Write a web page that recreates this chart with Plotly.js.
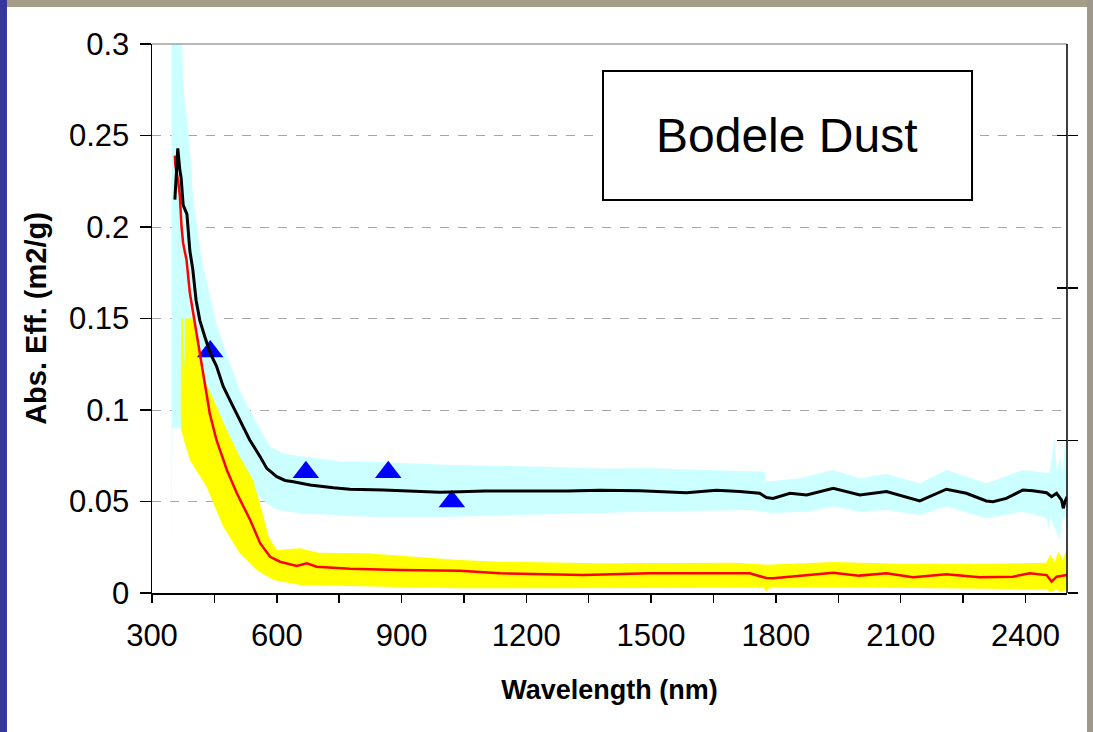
<!DOCTYPE html>
<html>
<head>
<meta charset="utf-8">
<script src="https://cdn.plot.ly/plotly-3.0.1.min.js"></script>
<style>
  html, body { margin: 0; padding: 0; background: #ffffff; }
  #chart { width: 1093px; height: 732px; }
</style>
</head>
<body>
<div id="chart"></div>
<script>
// ---- Data ----
const blackX = [355,358,362,367,370,375,384,391,398,406,415,427,440,455,471,487,511,535,560,576,600,620,640,680,736,776,856,936,992,1040,1100,1200,1300,1377,1473,1585,1657,1713,1761,1777,1793,1834,1874,1938,2002,2066,2130,2146,2210,2258,2306,2322,2354,2394,2418,2451,2463,2475,2487,2491,2495,2500];
const blackY = [0.215,0.226,0.243,0.231,0.227,0.212,0.207,0.187,0.177,0.160,0.149,0.140,0.131,0.124,0.113,0.1055,0.0945,0.0836,0.0745,0.0681,0.0636,0.0615,0.0608,0.059,0.0575,0.0567,0.0563,0.0557,0.055,0.0553,0.0557,0.0557,0.0557,0.0562,0.0559,0.0548,0.0562,0.0554,0.0545,0.0522,0.0517,0.0545,0.0536,0.0572,0.0536,0.0554,0.0512,0.0503,0.0567,0.0545,0.0503,0.0499,0.0517,0.0563,0.0559,0.0548,0.0526,0.0545,0.0508,0.0463,0.0499,0.0526];

const redX = [355,356,363,367,371,375,383,391,399,407,415,423,439,455,480,504,536,560,584,608,648,672,696,776,896,1040,1137,1337,1497,1737,1777,1793,1850,1938,2000,2066,2130,2210,2290,2370,2410,2451,2463,2475,2500];
const redY = [0.239,0.234,0.225,0.217,0.200,0.191,0.182,0.164,0.153,0.142,0.131,0.120,0.098,0.0836,0.0672,0.0545,0.0399,0.0272,0.0198,0.0171,0.0148,0.0162,0.0144,0.0133,0.0126,0.0122,0.0108,0.0098,0.0108,0.0108,0.0082,0.008,0.0092,0.0111,0.0095,0.0108,0.0086,0.0102,0.0086,0.0089,0.0108,0.0098,0.0062,0.0089,0.0098];

const cyanUpperX = [347,371,375,379,391,399,407,423,431,455,480,511,530,555,584,616,632,696,752,816,1016,1257,1377,1497,1737,1773,1777,1858,1938,2002,2066,2146,2210,2306,2394,2458,2470,2476,2483,2490,2495,2500];
const cyanUpperY = [0.31,0.31,0.280,0.269,0.244,0.215,0.202,0.178,0.171,0.147,0.130,0.111,0.102,0.092,0.080,0.0763,0.0755,0.0736,0.0718,0.0718,0.070,0.069,0.0681,0.0682,0.0663,0.0663,0.0608,0.0627,0.0672,0.0627,0.065,0.060,0.0672,0.060,0.0672,0.0654,0.085,0.066,0.0745,0.066,0.0836,0.066];
const cyanLowerX = [347,348,349,380,420,470,520,557,576,600,656,816,1016,1257,1497,1737,1773,1789,1874,1938,2002,2066,2146,2210,2306,2394,2451,2455,2460,2483,2488,2495,2500];
const cyanLowerY = [0.022,0.022,0.09,0.09,0.085,0.075,0.062,0.0526,0.049,0.0454,0.0436,0.0417,0.0417,0.0432,0.0444,0.0454,0.0445,0.0437,0.0444,0.0472,0.0444,0.0454,0.0426,0.0472,0.0408,0.0444,0.041,0.0353,0.041,0.029,0.04,0.041,0.045];

const yellowUpperX = [369,370,375,378,380,392,400,415,431,455,480,511,543,568,580,600,656,700,816,1040,1137,1377,1700,1777,1938,2100,2300,2450,2460,2470,2480,2490,2497,2500];
const yellowUpperY = [0.10,0.15,0.15,0.12,0.15,0.15,0.15,0.133,0.114,0.102,0.089,0.0745,0.0617,0.042,0.031,0.0235,0.0244,0.022,0.0217,0.018,0.0171,0.0162,0.0165,0.0155,0.017,0.016,0.016,0.0165,0.021,0.017,0.0226,0.018,0.023,0.019];
const yellowLowerX = [369,370,391,431,471,511,551,592,656,1040,1500,1770,1777,1785,2000,2450,2460,2475,2485,2500];
const yellowLowerY = [0.10,0.089,0.0727,0.058,0.0363,0.0217,0.0126,0.0071,0.0044,0.0026,0.0028,0.003,0.0007,0.003,0.003,0.002,0.0005,0.002,0.0003,0.002];

const blueX = [440, 670, 868, 1021];
const blueY = [0.132, 0.066, 0.066, 0.050];

const xTickVals = [300, 600, 900, 1200, 1500, 1800, 2100, 2400];
const yTickVals = [0, 0.05, 0.1, 0.15, 0.2, 0.25, 0.3];
const yTickText = ['0', '0.05', '0.1', '0.15', '0.2', '0.25', '0.3'];

const boxLabel = 'Bodele Dust';
const xTitle = 'Wavelength (nm)';
const yTitle = 'Abs. Eff. (m2/g)';

// ---- Build polygons for bands ----
function band(ux, uy, lx, ly) {
  return {
    x: ux.concat(lx.slice().reverse()),
    y: uy.concat(ly.slice().reverse())
  };
}
const cyanBand = band(cyanUpperX, cyanUpperY, cyanLowerX, cyanLowerY);
const yellowBand = band(yellowUpperX, yellowUpperY, yellowLowerX, yellowLowerY);

const FONT = 'Liberation Sans, Arial, sans-serif';

const traces = [
  { x: cyanBand.x, y: cyanBand.y, type: 'scatter', mode: 'lines', fill: 'toself',
    fillcolor: '#ccffff', line: { width: 0, color: '#ccffff' }, hoverinfo: 'skip', showlegend: false },
  { x: yellowBand.x, y: yellowBand.y, type: 'scatter', mode: 'lines', fill: 'toself',
    fillcolor: '#ffff00', line: { width: 0, color: '#ffff00' }, hoverinfo: 'skip', showlegend: false },
  { x: blueX, y: blueY, type: 'scatter', mode: 'markers',
    marker: { symbol: 'triangle-up', size: 23, color: '#0000ff', line: { width: 0 } }, showlegend: false },
  { x: redX, y: redY, type: 'scatter', mode: 'lines',
    line: { color: '#ff0000', width: 2.5 }, showlegend: false },
  { x: blackX, y: blackY, type: 'scatter', mode: 'lines',
    line: { color: '#000000', width: 3 }, showlegend: false },
  { x: [], y: [], yaxis: 'y2', type: 'scatter', showlegend: false, hoverinfo: 'skip' },
  { x: [], y: [], yaxis: 'y3', type: 'scatter', showlegend: false, hoverinfo: 'skip' }
];

const layout = {
  width: 1093, height: 732,
  margin: { l: 152, r: 26, t: 44, b: 139, pad: 0 },
  paper_bgcolor: '#ffffff',
  plot_bgcolor: '#ffffff',
  font: { family: FONT, color: '#000000' },
  showlegend: false,
  xaxis: {
    range: [300, 2500], autorange: false,
    tickmode: 'array', tickvals: xTickVals,
    ticks: 'outside', ticklen: 8, tickwidth: 1.5, tickcolor: '#000000',
    minor: { dtick: 150, tick0: 300, ticks: 'outside', ticklen: 8, tickwidth: 1.5, tickcolor: '#000000', showgrid: false },
    showgrid: false, zeroline: false,
    showline: true, linecolor: '#000000', linewidth: 1.5,
    tickfont: { family: FONT, size: 31, color: '#000000' },
    ticklabelstandoff: 6,
    title: { text: xTitle, font: { family: FONT, size: 27, weight: 'bold', color: '#000000' }, standoff: 28 }
  },
  yaxis: {
    range: [0, 0.3], autorange: false,
    tickmode: 'array', tickvals: yTickVals, ticktext: yTickText,
    ticks: 'outside', ticklen: 11, tickwidth: 1.5, tickcolor: '#000000',
    showgrid: true, gridcolor: '#a6a6a6', griddash: 'dash', gridwidth: 1,
    zeroline: false,
    showline: true, linecolor: '#000000', linewidth: 1.5,
    tickfont: { family: FONT, size: 31, color: '#000000' },
    ticklabelstandoff: 4,
    title: { text: yTitle, font: { family: FONT, size: 29, weight: 'bold', color: '#000000' }, standoff: 14 }
  },
  yaxis2: {
    overlaying: 'y', side: 'right', anchor: 'x',
    range: [0, 3.6], autorange: false, dtick: 1, tick0: 0,
    ticks: 'outside', ticklen: 10, tickwidth: 1.5, tickcolor: '#000000',
    showticklabels: false, showgrid: false, zeroline: false, showline: false
  },
  yaxis3: {
    overlaying: 'y', side: 'right', anchor: 'x',
    range: [0, 3.6], autorange: false, dtick: 1, tick0: 0,
    ticks: 'inside', ticklen: 10, tickwidth: 1.5, tickcolor: '#000000',
    showticklabels: false, showgrid: false, zeroline: false, showline: false
  },
  shapes: [
    { type: 'rect', xref: 'paper', yref: 'paper', x0: -0.17, x1: 1.03, y0: 1.0674, y1: 1.09,
      fillcolor: '#a69d88', line: { width: 0 }, layer: 'below' },
    { type: 'rect', xref: 'paper', yref: 'paper', x0: -0.17, x1: -0.1585, y0: -0.26, y1: 1.09,
      fillcolor: '#36379e', line: { width: 0 }, layer: 'below' },
    { type: 'rect', xref: 'paper', yref: 'paper', x0: 1.0219, x1: 1.03, y0: -0.26, y1: 1.09,
      fillcolor: '#9e978c', line: { width: 0 }, layer: 'below' },
    { type: 'line', xref: 'paper', yref: 'paper', x0: 0, x1: 1, y0: 1, y1: 1,
      line: { color: '#a0a0a0', width: 1.5 } },
    { type: 'line', xref: 'paper', yref: 'paper', x0: 1, x1: 1, y0: 0, y1: 1,
      line: { color: '#000000', width: 1.5 } },
    { type: 'rect', xref: 'paper', yref: 'paper', x0: 0.4929, x1: 0.8962, y0: 0.7158, y1: 0.9508,
      fillcolor: '#ffffff', line: { color: '#000000', width: 2 } }
  ],
  annotations: [
    { xref: 'paper', yref: 'paper', x: 0.6945, y: 0.8333, xanchor: 'center', yanchor: 'middle',
      text: boxLabel, showarrow: false, font: { family: FONT, size: 48, color: '#000000' } }
  ]
};

Plotly.newPlot('chart', traces, layout, { staticPlot: true, displayModeBar: false });
</script>
</body>
</html>
